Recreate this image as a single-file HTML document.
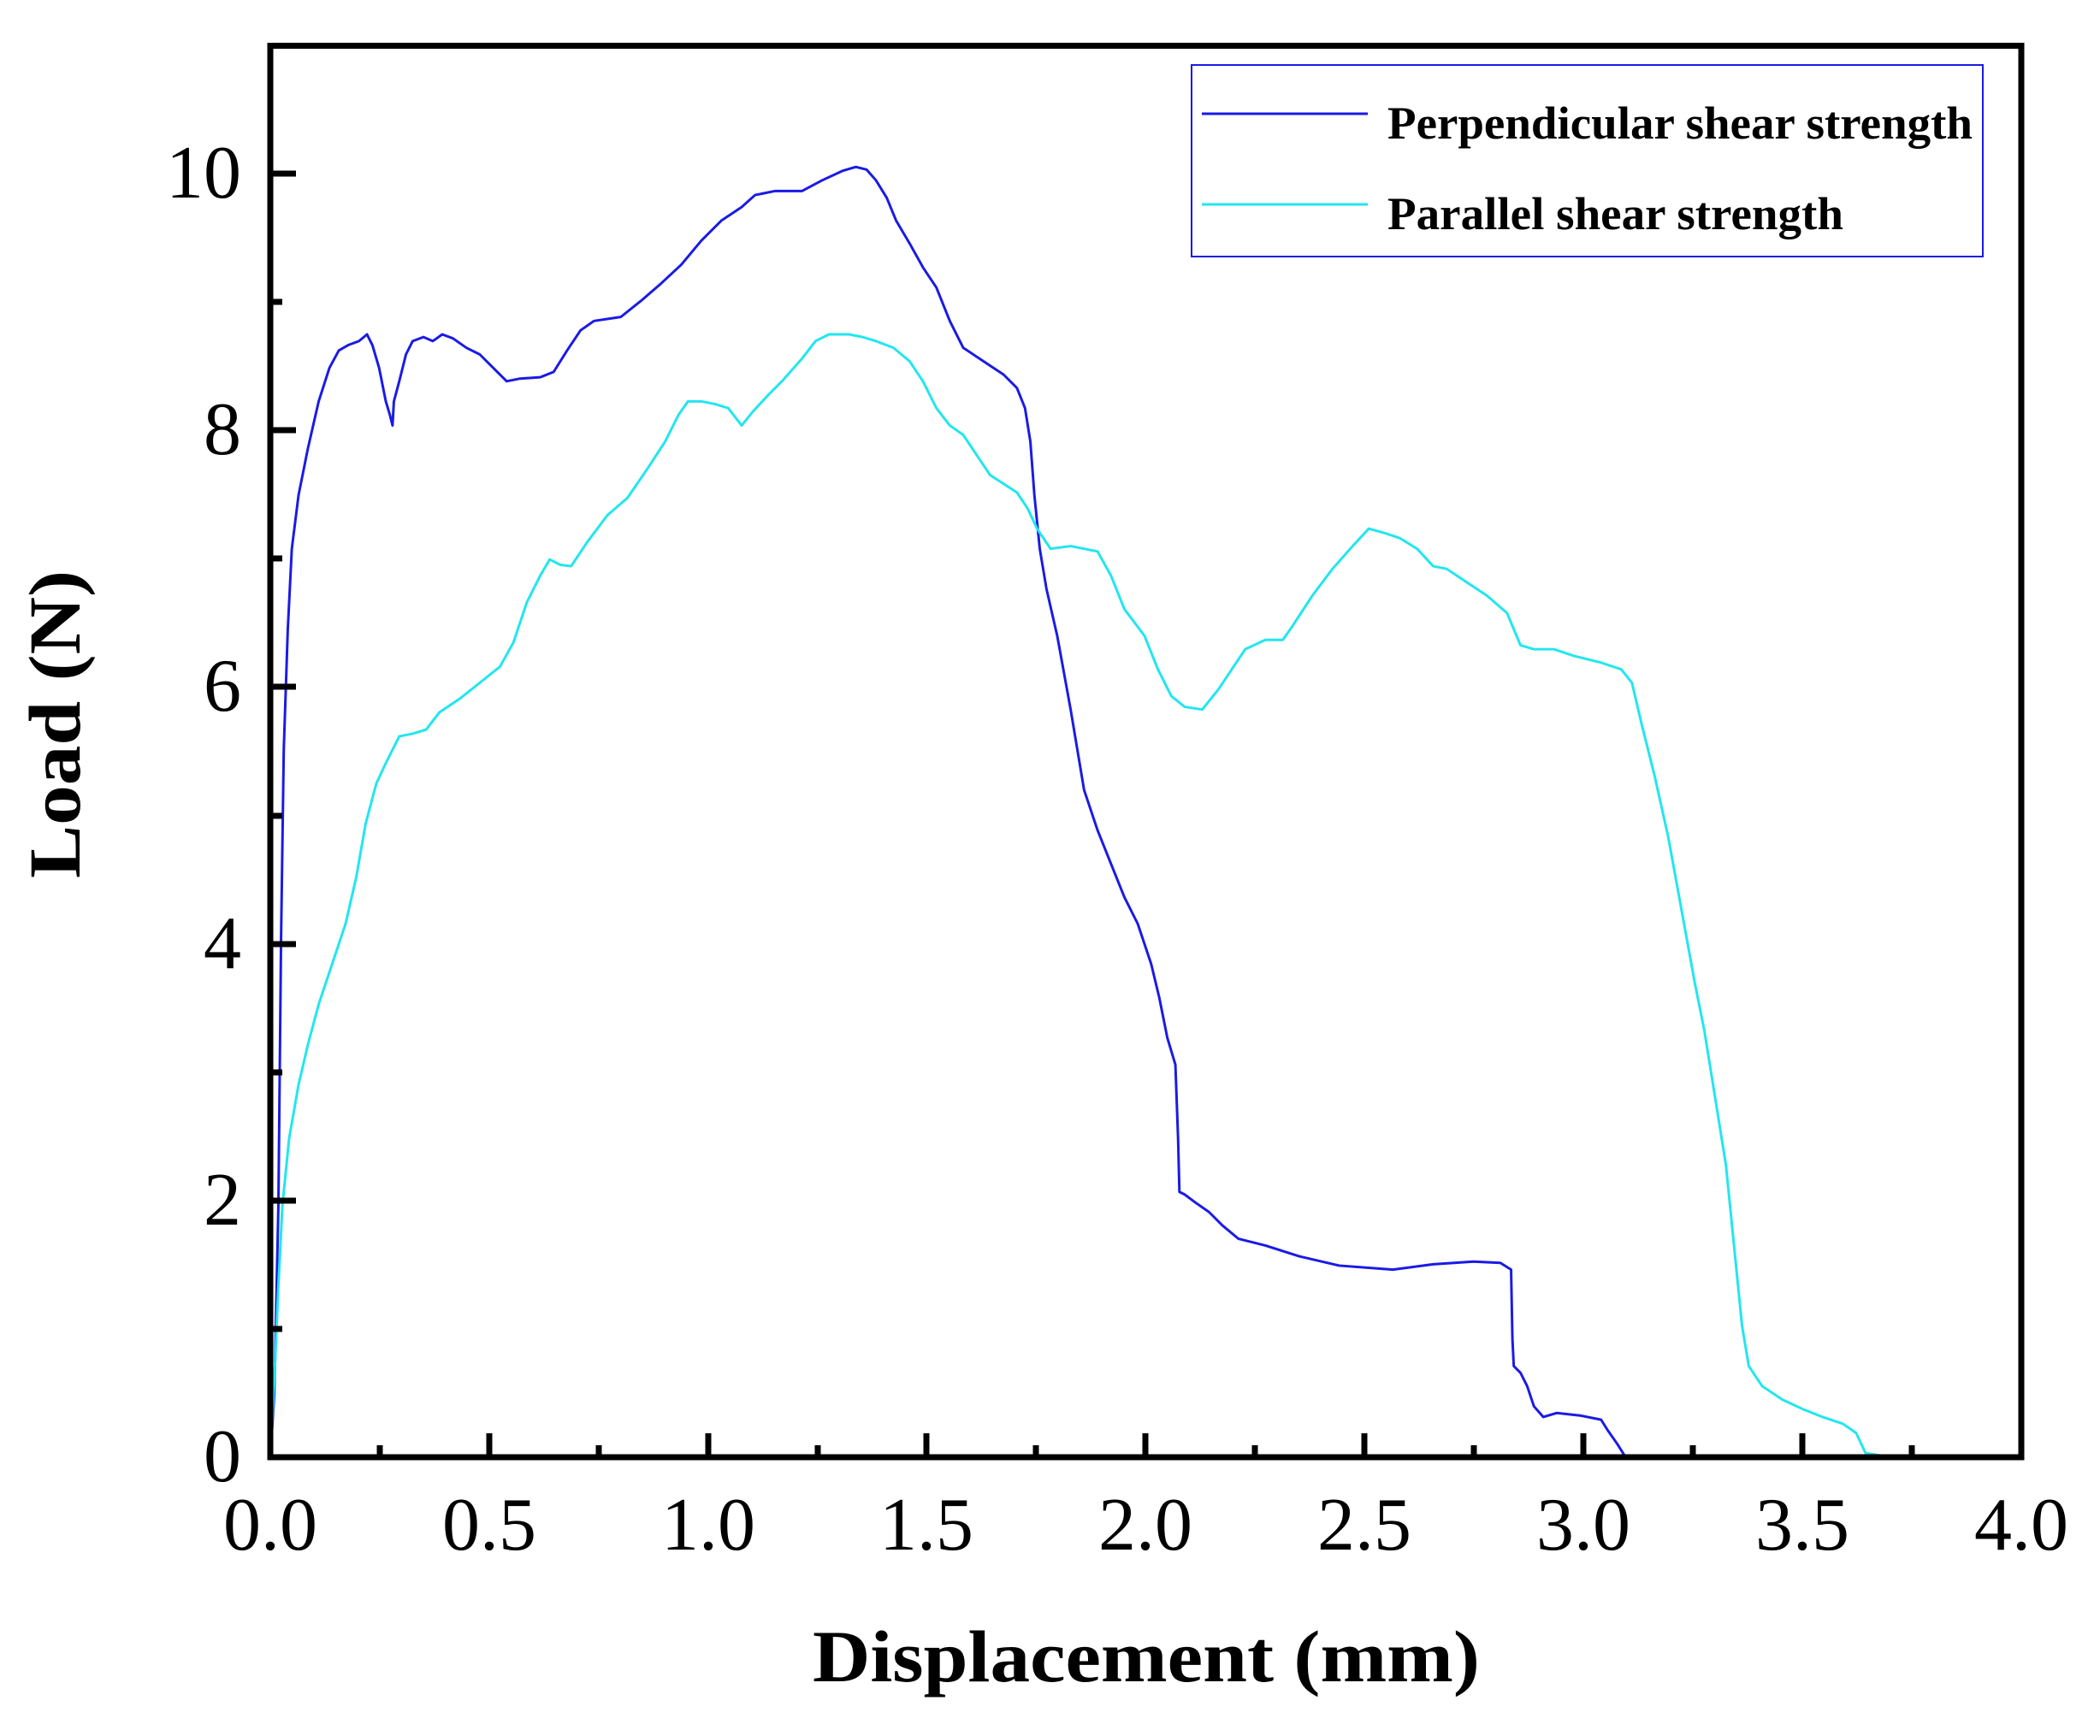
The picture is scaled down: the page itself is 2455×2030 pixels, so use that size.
<!DOCTYPE html>
<html><head><meta charset="utf-8"><style>html,body{margin:0;padding:0;background:#fff}svg{display:block}</style></head>
<body>
<svg width="2455" height="2030" viewBox="0 0 2455 2030" xmlns="http://www.w3.org/2000/svg">
<rect width="2455" height="2030" fill="#fff"/>
<g fill="none" stroke-linejoin="round" stroke-linecap="round">
<g transform="matrix(1.5698,0,0,1.5668,-4.2,-0.7)">
<polyline stroke="#1a1ae6" stroke-width="1.9" points="204,1088 207,1040 210,900 212,700 214,560 217,470 220,410 225,370 232,335 240,300 248,275 255,262 262,258 270,255 276,250 280,258 285,275 290,300 293,310 295,318 296,300 300,285 305,265 310,255 318,252 325,255 332,250 340,253 350,260 360,265 370,275 380,285 390,283 405,282 415,278 425,262 435,247 445,240 465,237 480,225 495,212 510,198 525,180 540,165 555,155 565,146 580,143 600,143 615,135 630,128 640,125 648,127 655,135 663,148 670,165 680,182 690,200 700,215 710,240 720,260 735,270 750,280 760,290 766,305 770,330 773,370 777,410 782,440 790,475 800,530 810,590 820,620 830,645 840,670 850,690 860,720 866,745 872,775 878,795 880,850 881,890 885,892 893,898 903,905 913,915 925,925 945,930 970,938 1000,945 1040,948 1070,944 1100,942 1120,943 1128,948 1129,1000 1130,1020 1135,1025 1140,1035 1145,1050 1152,1058 1162,1055 1180,1057 1195,1060 1200,1068 1207,1078 1212,1086"/>
<polyline stroke="#22e6ee" stroke-width="1.9" points="204,1088 207,1030 210,960 213,900 218,850 225,810 232,780 240,750 250,720 260,690 268,655 275,615 283,585 290,570 300,550 310,548 320,545 330,532 345,522 360,510 375,498 385,480 395,450 405,430 412,418 420,422 428,423 440,405 455,385 470,372 485,350 498,330 508,310 515,300 525,300 535,302 545,305 555,318 563,308 575,295 585,285 600,268 610,255 620,250 635,250 645,252 655,255 668,260 680,270 690,285 700,305 710,318 720,325 730,340 740,355 760,368 768,380 775,395 785,410 800,408 810,410 820,412 830,430 840,455 855,475 865,500 875,520 885,528 898,530 910,515 920,500 930,485 945,478 958,478 965,468 980,445 995,425 1010,408 1022,395 1033,398 1045,402 1058,410 1070,423 1080,425 1095,435 1110,445 1125,458 1135,482 1145,485 1160,485 1175,490 1195,495 1210,500 1218,510 1225,540 1235,580 1245,625 1255,680 1265,735 1272,770 1280,820 1288,870 1295,940 1300,990 1305,1020 1315,1035 1330,1045 1345,1052 1360,1058 1375,1063 1385,1070 1392,1085 1405,1087 1450,1087"/>
</g>
</g>
<rect x="316" y="53.5" width="2047" height="1650.5" fill="none" stroke="#000" stroke-width="7"/>
<g stroke="#000" stroke-width="7">
<line x1="572" y1="1704" x2="572" y2="1676"/><line x1="828" y1="1704" x2="828" y2="1676"/><line x1="1083" y1="1704" x2="1083" y2="1676"/><line x1="1339" y1="1704" x2="1339" y2="1676"/><line x1="1595" y1="1704" x2="1595" y2="1676"/><line x1="1851" y1="1704" x2="1851" y2="1676"/><line x1="2107" y1="1704" x2="2107" y2="1676"/>
<line x1="444" y1="1704" x2="444" y2="1690"/><line x1="700" y1="1704" x2="700" y2="1690"/><line x1="956" y1="1704" x2="956" y2="1690"/><line x1="1211" y1="1704" x2="1211" y2="1690"/><line x1="1467" y1="1704" x2="1467" y2="1690"/><line x1="1723" y1="1704" x2="1723" y2="1690"/><line x1="1979" y1="1704" x2="1979" y2="1690"/><line x1="2235" y1="1704" x2="2235" y2="1690"/>
<line x1="316" y1="1404" x2="346" y2="1404"/><line x1="316" y1="1104" x2="346" y2="1104"/><line x1="316" y1="803" x2="346" y2="803"/><line x1="316" y1="503" x2="346" y2="503"/><line x1="316" y1="203" x2="346" y2="203"/>
<line x1="316" y1="1554" x2="330" y2="1554"/><line x1="316" y1="1254" x2="330" y2="1254"/><line x1="316" y1="954" x2="330" y2="954"/><line x1="316" y1="653" x2="330" y2="653"/><line x1="316" y1="353" x2="330" y2="353"/>
</g>
<g font-family="Liberation Serif, serif" font-size="88" fill="#000">
<g text-anchor="end">
<text x="282" y="1732">0</text><text x="282" y="1432">2</text><text x="282" y="1132">4</text><text x="282" y="831">6</text><text x="282" y="531">8</text><text x="282" y="231">10</text>
</g>
<g text-anchor="middle">
<text x="316" y="1812">0.0</text><text x="572" y="1812">0.5</text><text x="828" y="1812">1.0</text><text x="1083" y="1812">1.5</text><text x="1339" y="1812">2.0</text><text x="1595" y="1812">2.5</text><text x="1851" y="1812">3.0</text><text x="2107" y="1812">3.5</text><text x="2363" y="1812">4.0</text>
</g>
</g>
<text x="1340" y="1966" text-anchor="middle" font-family="Liberation Serif, serif" font-weight="bold" font-size="86" textLength="780" lengthAdjust="spacingAndGlyphs">Displacement (mm)</text>
<text transform="translate(93,847) rotate(-90)" text-anchor="middle" font-family="Liberation Serif, serif" font-weight="bold" font-size="86" textLength="360" lengthAdjust="spacingAndGlyphs">Load (N)</text>
<rect x="1393" y="76" width="925" height="224" fill="#fff" stroke="#1a1ae6" stroke-width="2"/>
<line x1="1405" y1="133" x2="1599" y2="133" stroke="#1a1ae6" stroke-width="3"/>
<line x1="1405" y1="239" x2="1599" y2="239" stroke="#22e6ee" stroke-width="3"/>
<g font-family="Liberation Serif, serif" font-weight="bold" font-size="54">
<text x="1622" y="162" textLength="684" lengthAdjust="spacingAndGlyphs">Perpendicular shear strength</text>
<text x="1622" y="268" textLength="533" lengthAdjust="spacingAndGlyphs">Parallel shear strength</text>
</g>
</svg>
</body></html>
